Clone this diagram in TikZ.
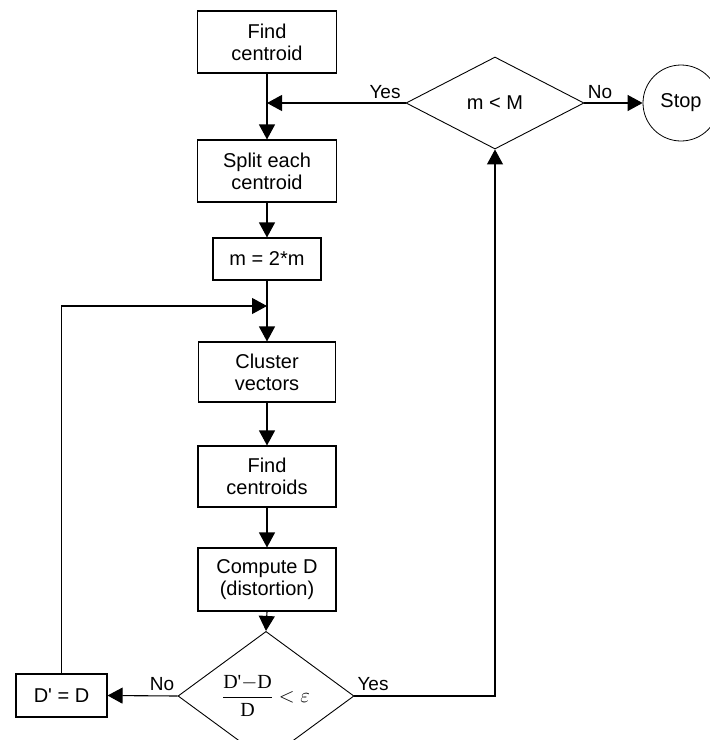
\documentclass[tikz,border=0pt]{standalone}
\usepackage{fontspec}
\setmainfont{Liberation Sans}
\newfontfamily\tms{Liberation Serif}
\usetikzlibrary{shapes.geometric,arrows.meta}
\begin{document}
\begin{tikzpicture}[x=1pt,y=-1pt,
  txt/.style={font=\fontsize{20}{22}\selectfont},
  box/.style={draw, line width=1.1pt, align=center, txt, inner sep=0pt},
  dec/.style={draw, diamond, line width=0.9pt, inner sep=0pt, txt},
  arr/.style={line width=1.1pt, -{Triangle[length=15pt,width=16pt]}},
  lbl/.style={font=\fontsize{19}{22}\selectfont, inner sep=0pt}]
\useasboundingbox (0,0) rectangle (710,740);
\fill[white] (0,0) rectangle (710,740);

\node[box, minimum width=139pt, minimum height=62pt] (find) at (267,42) {Find\\centroid};
\node[box, minimum width=139pt, minimum height=62pt] (split) at (267,171) {Split each\\centroid};
\node[box, minimum width=108pt, minimum height=42pt] (m2m) at (267,259) {m = 2*m};
\node[box, minimum width=137pt, minimum height=60pt] (cluster) at (267,372) {Cluster\\vectors};
\node[box, minimum width=138pt, minimum height=61pt] (findc) at (267,476.5) {Find\\centroids};
\node[box, minimum width=138pt, minimum height=63pt] (compute) at (267,579.5) {Compute D\\(distortion)};
\node[box, minimum width=91pt, minimum height=43pt] (dd) at (61.5,695.5) {D\textquotesingle{} = D};
\node[dec, minimum width=176pt, minimum height=88pt] (cond) at (266,696)
  {$\displaystyle\frac{\mbox{\tms D\textquotesingle}{-}\mbox{\tms D}}{\mbox{\tms D}}<\varepsilon$};
\node[dec, minimum width=178pt, minimum height=92pt] (mm) at (495,103) {m < M};
\node[draw, circle, minimum size=76pt, inner sep=0pt, line width=0.8pt, txt] (stop) at (681,103) {Stop};

\coordinate (j1) at (find.south |- mm.west);
\coordinate (j2) at (267,306);

\draw[line width=1.1pt] (find.south) -- (j1);
\draw[arr] (j1) -- (split.north);
\draw[arr] (mm.west) -- (j1);
\draw[arr] (mm.east) -- (stop.west);
\draw[arr] (split.south) -- (m2m.north);
\draw[line width=1.1pt] (m2m.south) -- (j2);
\draw[arr] (j2) -- (cluster.north);
\draw[arr] (dd.north) |- (j2);
\draw[arr] (cluster.south) -- (findc.north);
\draw[arr] (findc.south) -- (compute.north);
\draw[arr] (compute.south) -- (cond.north);
\draw[arr] (cond.west) -- (dd.east);
\draw[arr] (cond.east) -| (mm.south);

\node[lbl] (yes1) at (385,92) {Yes};
\node[lbl] (no1) at (600,92) {No};
\node[lbl] (no2) at (162,684) {No};
\node[lbl] (yes2) at (373,684) {Yes};
\end{tikzpicture}
\end{document}
